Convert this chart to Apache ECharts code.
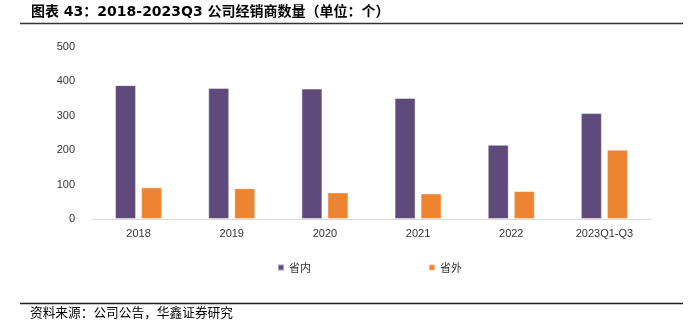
<!DOCTYPE html>
<html>
<head>
<meta charset="utf-8">
<script src="https://cdn.jsdelivr.net/npm/echarts@6/dist/echarts.min.js"></script>
<style>
html,body{margin:0;padding:0;background:#fff;}
#c{width:693px;height:329px;}
</style>
</head>
<body>
<div id="c"></div>
<script>
const categories = ['2018', '2019', '2020', '2021', '2022', '2023Q1-Q3'];
const inProvince = [388, 380, 378, 351, 215, 307];
const outProvince = [92, 89, 77, 74, 81, 201];
const yTicks = [0, 100, 200, 300, 400, 500];
const seriesNames = ['省内', '省外'];
const titleText = '图表 43：2018-2023Q3 公司经销商数量（单位：个）';
const sourceText = '资料来源：公司公告，华鑫证券研究';

const chart = echarts.init(document.getElementById('c'), null, {renderer: 'canvas'});
const cjk = '"Noto Sans CJK SC", "Liberation Sans", sans-serif';
chart.setOption({
  animation: false,
  backgroundColor: '#fff',
  graphic: [
    {type: 'text', left: 31, top: 5, style: {text: titleText, font: 'bold 14px "DejaVu Sans", "Noto Sans CJK SC", sans-serif', fill: '#000'}},
    {type: 'line', shape: {x1: 20, y1: 23.5, x2: 683, y2: 23.5}, style: {stroke: '#333', lineWidth: 1.5}},
    {type: 'line', shape: {x1: 20, y1: 303.5, x2: 683, y2: 303.5}, style: {stroke: '#222', lineWidth: 1.5}},
    {type: 'text', left: 30, top: 306, style: {text: sourceText, font: '12.7px ' + cjk, fill: '#000'}}
  ],
  legend: {
    data: seriesNames,
    left: 277,
    top: 262,
    padding: 0,
    icon: 'rect',
    itemWidth: 6,
    itemHeight: 6,
    itemGap: 117,
    textStyle: {fontSize: 11, color: '#333', fontFamily: cjk}
  },
  grid: {left: 92, right: 42, top: 46.5, bottom: 110, containLabel: false},
  xAxis: {
    type: 'category',
    data: categories,
    axisLine: {lineStyle: {color: '#d9d9d9', width: 1}},
    axisTick: {show: false},
    axisLabel: {fontSize: 11, color: '#333', margin: 9, fontFamily: '"Liberation Sans", Arial, sans-serif'}
  },
  yAxis: {
    type: 'value',
    min: yTicks[0],
    max: yTicks[yTicks.length - 1],
    interval: 100,
    axisLine: {show: false},
    axisTick: {show: false},
    splitLine: {show: false},
    axisLabel: {fontSize: 11, color: '#333', margin: 17, fontFamily: '"Liberation Sans", Arial, sans-serif'}
  },
  series: [
    {
      name: seriesNames[0], type: 'bar', data: inProvince,
      barWidth: 21, barGap: '24%',
      itemStyle: {color: '#5F4B7B', borderColor: 'rgba(255,255,255,0.45)', borderWidth: 1}
    },
    {
      name: seriesNames[1], type: 'bar', data: outProvince,
      barWidth: 21,
      itemStyle: {color: '#ED8432', borderColor: 'rgba(255,255,255,0.45)', borderWidth: 1}
    }
  ]
});
</script>
</body>
</html>
